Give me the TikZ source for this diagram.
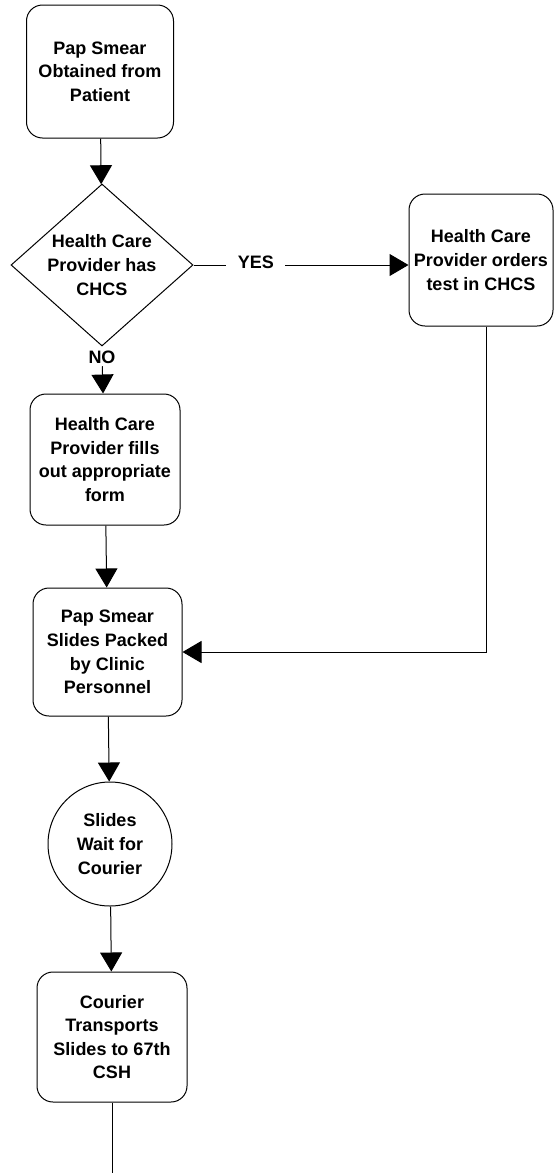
\documentclass[tikz,border=0pt]{standalone}
\usepackage{fontspec}
\setmainfont{Liberation Sans}
\usetikzlibrary{arrows.meta,positioning,shapes.geometric}

\begin{document}
\begin{tikzpicture}[x=0.5pt, y=-0.5pt,
  >={Triangle[length=9.5pt,width=11pt]}, line width=0.5pt,
  font=\fontsize{9}{11.8}\selectfont\bfseries,
  box/.style={draw, rounded corners=8pt, align=center, inner sep=2pt, minimum width=75pt, minimum height=65pt},
  decision/.style={draw, diamond, minimum width=91pt, minimum height=81pt, inner sep=0pt},
  hold/.style={draw, circle, align=center, minimum size=62pt, inner sep=0pt},
  lab/.style={fill=white, inner sep=1pt}]
  \useasboundingbox (0,0) rectangle (554,1173);
  \node[box, minimum width=73.5pt, minimum height=66.5pt] (pap) at (100,71.5) {Pap Smear\\ Obtained from\\ Patient};
  \node[decision, below=22.5pt of pap, xshift=1pt] (chcs) {};
  \node[align=center, inner sep=0pt] (chcstxt) at (chcs) {Health Care\\ Provider has\\ CHCS};
  \node[box, right=107.5pt of chcs, yshift=2.5pt, minimum width=72pt, minimum height=66pt] (ordr) {Health Care\\ Provider orders\\ test in CHCS};
  \node[lab, below=1pt of chcs] (no) {NO};
  \node[box, below=23.5pt of chcs, xshift=1.5pt, minimum height=65.5pt] (form) {Health Care\\ Provider fills\\ out appropriate\\ form};
  \node[box, below=31pt of form, xshift=1.25pt, minimum width=74.5pt, minimum height=64pt] (pack) {Pap Smear\\ Slides Packed\\ by Clinic\\ Personnel};
  \node[hold, below=32.5pt of pack, xshift=1.25pt] (wait) {Slides\\ Wait for\\ Courier};
  \node[box, below=32.5pt of wait, xshift=1pt] (cour) {Courier\\ Transports\\ Slides to 67th\\ CSH};
  \coordinate (bot) at (0,1173);
  \coordinate (tail) at (cour.south |- bot);
  \draw[->] (pap) -- (chcs);
  \draw[->] (chcs.east) -- node[lab, pos=0.29, inner xsep=5.75pt, yshift=1.5pt] (yes) {YES} (chcs.east -| ordr.west);
  \draw[->] (no) -- (form);
  \draw[->] (form) -- (pack);
  \draw[->] ([xshift=2.5pt]ordr.south) |- (pack.east);
  \draw[->] (pack) -- (wait);
  \draw[->] (wait) -- (cour);
  \draw (cour) -- (tail);
\end{tikzpicture}
\end{document}
